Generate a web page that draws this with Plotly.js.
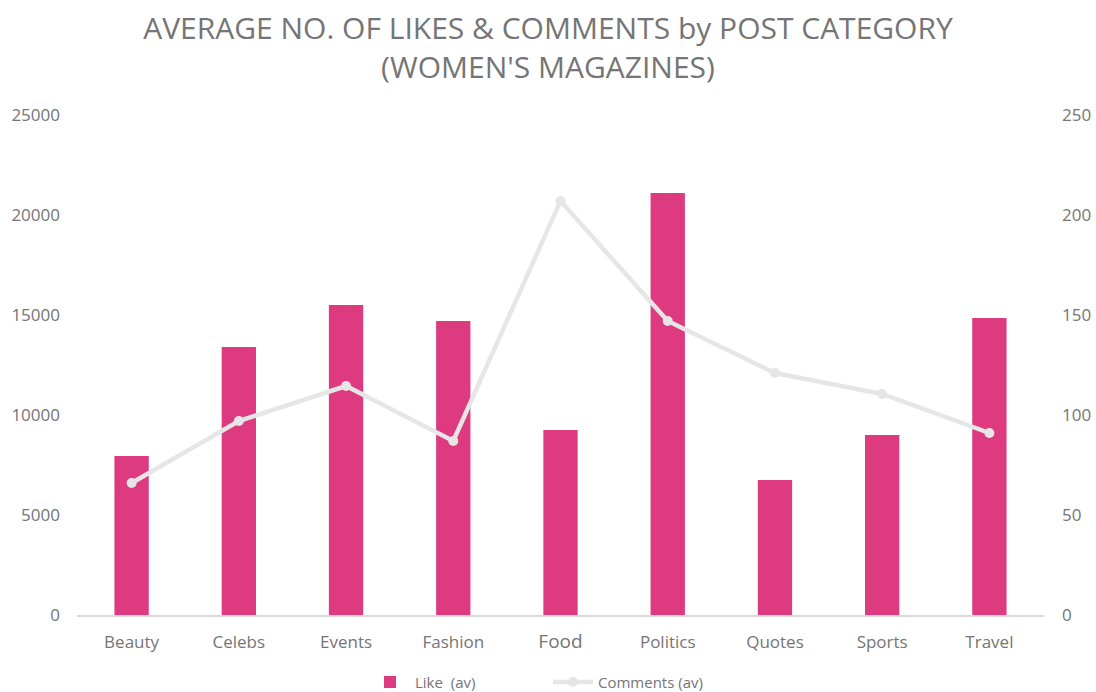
<!DOCTYPE html>
<html>
<head>
<meta charset="utf-8">
<script src="https://cdn.plot.ly/plotly-3.0.1.min.js"></script>
<style>html,body{margin:0;padding:0;background:#fff;}#chart{width:1096px;height:692px;}</style>
</head>
<body>
<div id="chart"></div>
<script>
const categories = ["Beauty","Celebs","Events","Fashion","Food","Politics","Quotes","Sports","Travel"];
const likes = [7950, 13400, 15500, 14700, 9250, 21100, 6750, 9000, 14850];
const comments = [66, 97, 114.5, 87, 207, 147, 121, 110.5, 91];
const leftTicks = [0, 5000, 10000, 15000, 20000, 25000];
const rightTicks = [0, 50, 100, 150, 200, 250];

const labelColor = "#757575";
const fontFam = "Open Sans, Noto Sans, sans-serif";

const traces = [
  {
    type: "bar",
    name: "Like  (av)",
    x: categories,
    y: likes,
    marker: {color: "#DE3A7F"},
    yaxis: "y",
    hoverinfo: "x+y"
  },
  {
    type: "scatter",
    mode: "lines+markers",
    name: "Comments (av)",
    x: categories,
    y: comments,
    yaxis: "y2",
    line: {color: "#E6E6E6", width: 4.5},
    marker: {color: "#E6E6E6", size: 10}
  }
];

const layout = {
  width: 1096,
  height: 692,
  margin: {l: 77, r: 52, t: 115, b: 77},
  paper_bgcolor: "#ffffff",
  plot_bgcolor: "#ffffff",
  font: {family: fontFam, color: labelColor, size: 16},
  title: {
    text: "AVERAGE NO. OF LIKES & COMMENTS by POST CATEGORY<br>(WOMEN'S MAGAZINES)",
    font: {family: fontFam, size: 30, color: labelColor},
    x: 0.5, xanchor: "center",
    yref: "container",
    y: 0.943, yanchor: "middle"
  },
  bargap: 0.68,
  showlegend: true,
  legend: {
    orientation: "h",
    x: 0.5, xanchor: "center",
    xref: "container",
    yref: "container",
    y: 0.014, yanchor: "middle",
    font: {family: fontFam, size: 15, color: labelColor},
    traceorder: "normal",
    itemwidth: 40,
    entrywidth: 128
  },
  xaxis: {
    type: "category",
    showgrid: false,
    showline: true,
    linecolor: "#D9D9D9",
    linewidth: 1.5,
    ticks: "",
    ticklabelstandoff: 11,
    tickvals: categories,
    ticktext: categories.map(c => c === "Food" ? '<span style="font-size:19px">' + c + '</span>' : c),
    tickfont: {family: fontFam, size: 17, color: labelColor},
    fixedrange: true
  },
  yaxis: {
    range: [0, 25000],
    tickvals: leftTicks,
    ticktext: leftTicks.map(String),
    showgrid: false,
    zeroline: false,
    showline: false,
    ticks: "",
    ticklabelstandoff: 16,
    tickfont: {family: fontFam, size: 17, color: labelColor}
  },
  yaxis2: {
    overlaying: "y",
    side: "right",
    range: [0, 250],
    tickvals: rightTicks,
    ticktext: rightTicks.map(String),
    showgrid: false,
    zeroline: false,
    showline: false,
    ticks: "",
    ticklabelstandoff: 17,
    tickfont: {family: fontFam, size: 17, color: labelColor}
  }
};

Plotly.newPlot("chart", traces, layout, {displayModeBar: false, staticPlot: true});
</script>
</body>
</html>
